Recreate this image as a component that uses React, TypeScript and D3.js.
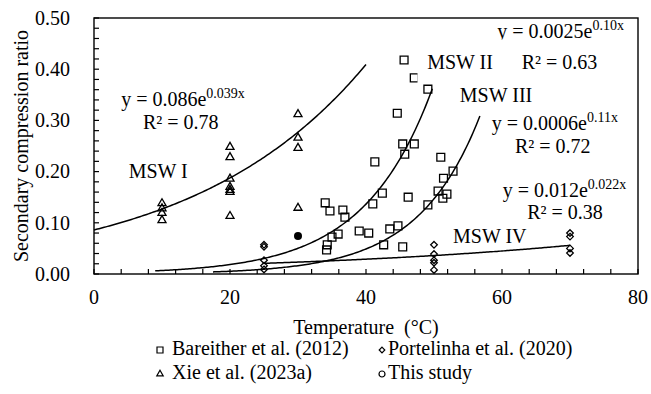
import React, { useEffect, useRef } from 'react';
import * as d3 from 'd3';

// Bareither et al. (2012) — [temperature, ratio]
const bareither: [number, number][] = [
  [45.6, 0.418], [47.1, 0.383], [49.1, 0.361], [44.6, 0.314],
  [45.4, 0.254], [47.1, 0.254], [45.7, 0.234], [41.3, 0.219],
  [51.0, 0.228], [52.8, 0.201], [51.4, 0.187], [50.6, 0.162],
  [51.9, 0.156], [51.3, 0.148], [49.1, 0.135], [42.4, 0.158],
  [46.2, 0.150], [41.0, 0.137], [34.0, 0.139], [34.7, 0.123],
  [36.6, 0.125], [36.9, 0.111], [39.0, 0.084], [40.4, 0.080],
  [43.5, 0.088], [44.7, 0.094], [35.9, 0.078], [35.0, 0.072],
  [34.3, 0.057], [34.2, 0.047], [42.6, 0.057], [45.4, 0.053],
];

// Portelinha et al. (2020)
const portelinha: [number, number][] = [
  [25, 0.057], [25, 0.053], [25, 0.027], [25, 0.016], [25, 0.009],
  [50, 0.057], [50, 0.039], [50, 0.027], [50, 0.022], [50, 0.008],
  [70, 0.080], [70, 0.073], [70, 0.050], [70, 0.041],
];

// Xie et al. (2023a)
const xie: [number, number][] = [
  [10, 0.138], [10, 0.128], [10, 0.119], [10, 0.105],
  [20, 0.248], [20, 0.228], [20, 0.186], [20, 0.170], [20, 0.164], [20, 0.160], [20, 0.113],
  [30, 0.312], [30, 0.266], [30, 0.246], [30, 0.129],
];

// This study
const thisStudy: [number, number][] = [[30, 0.074]];

// exponential fits y = a e^(b x), drawn over [from, to]
const fitA = [0.086, 0.0025, 0.0006, 0.012];
const fitB = [0.039, 0.10, 0.11, 0.022];
const fitFrom = [0, 9, 17.5, 25];
const fitTo = [40, 49.8, 56.8, 70];

const xTicks = [0, 20, 40, 60, 80];
const yTicks = [0, 0.1, 0.2, 0.3, 0.4, 0.5];

// annotations: [text, superscript, x, y] in data units (text start, baseline)
const notes: [string, string, number, number][] = [
  ['y = 0.086e', '0.039x', 4.0, 0.328],
  ['R² = 0.78', '', 7.2, 0.283],
  ['MSW I', '', 5.1, 0.1875],
  ['y = 0.0025e', '0.10x', 59.3, 0.461],
  ['MSW II', '', 49.0, 0.400],
  ['R² = 0.63', '', 62.9, 0.400],
  ['MSW III', '', 53.8, 0.336],
  ['y = 0.0006e', '0.11x', 58.5, 0.281],
  ['R² = 0.72', '', 61.9, 0.236],
  ['y = 0.012e', '0.022x', 60.1, 0.150],
  ['R² = 0.38', '', 63.7, 0.107],
  ['MSW IV', '', 52.8, 0.0605],
];

const legendNames = ['Bareither et al. (2012)', 'Portelinha et al. (2020)', 'Xie et al. (2023a)', 'This study'];

const FONT = '"Liberation Serif", "Times New Roman", serif';

const App: React.FC = () => {
  const svgRef = useRef<SVGSVGElement | null>(null);

  useEffect(() => {
    if (!svgRef.current) return;
    const W = 651;
    const H = 394;
    const margin = { top: 18, right: 13, bottom: 120, left: 94 };

    const svg = d3.select(svgRef.current).attr('width', W).attr('height', H);
    svg.selectAll('*').remove();

    const x = d3.scaleLinear().domain([0, 80]).range([margin.left, W - margin.right]);
    const y = d3.scaleLinear().domain([0, 0.5]).range([H - margin.bottom, margin.top]);

    const defs = svg.append('defs');
    defs.append('clipPath').attr('id', 'clip-eq2')
      .append('rect').attr('x', 0).attr('y', 0).attr('width', W).attr('height', 39.5);

    // minor ticks (inside)
    const tickLen = 5;
    svg.append('g').selectAll('line')
      .data(d3.range(0, 81, 4))
      .join('line')
      .attr('x1', d => x(d)).attr('x2', d => x(d))
      .attr('y1', y(0)).attr('y2', y(0) - tickLen)
      .attr('stroke', '#000').attr('stroke-width', 1.2);
    svg.append('g').selectAll('line')
      .data(d3.range(0, 26).map(i => i * 0.02))
      .join('line')
      .attr('x1', x(0)).attr('x2', x(0) + tickLen)
      .attr('y1', d => y(d)).attr('y2', d => y(d))
      .attr('stroke', '#000').attr('stroke-width', 1.2);

    // frame
    svg.append('rect')
      .attr('x', x(0)).attr('y', y(0.5))
      .attr('width', x(80) - x(0)).attr('height', y(0) - y(0.5))
      .attr('fill', 'none').attr('stroke', '#000').attr('stroke-width', 1.4);

    // tick labels
    svg.append('g').selectAll('text')
      .data(xTicks)
      .join('text')
      .attr('x', d => x(d)).attr('y', 304)
      .attr('text-anchor', 'middle')
      .attr('font-family', FONT).attr('font-size', 20)
      .text(d => String(d));
    svg.append('g').selectAll('text')
      .data(yTicks)
      .join('text')
      .attr('x', 70).attr('y', d => y(d))
      .attr('dy', '0.34em')
      .attr('text-anchor', 'end')
      .attr('font-family', FONT).attr('font-size', 20)
      .text(d => d.toFixed(2));

    // axis titles
    svg.append('text')
      .attr('x', (x(0) + x(80)) / 2).attr('y', 334)
      .attr('text-anchor', 'middle')
      .attr('font-family', FONT).attr('font-size', 20)
      .text('Temperature\u00a0 (°C)');
    svg.append('text')
      .attr('transform', `translate(28, ${(y(0) + y(0.5)) / 2}) rotate(-90)`)
      .attr('text-anchor', 'middle')
      .attr('font-family', FONT).attr('font-size', 20)
      .text('Secondary compression ratio');

    // fit curves
    const line = d3.line<[number, number]>().x(d => x(d[0])).y(d => y(d[1]));
    fitA.forEach((a, i) => {
      const pts: [number, number][] = d3.range(fitFrom[i], fitTo[i] + 0.001, 0.25)
        .map(t => [t, a * Math.exp(fitB[i] * t)]);
      svg.append('path')
        .attr('d', line(pts) ?? '')
        .attr('fill', 'none').attr('stroke', '#000').attr('stroke-width', 1.5);
    });

    // markers
    const sq = d3.symbol().type(d3.symbolSquare).size(62);
    const tri = d3.symbol().type(d3.symbolTriangle).size(28);
    const dia = d3.symbol().type(d3.symbolDiamond2).size(28);
    const drawPts = (pts: [number, number][], path: string | null, fill = 'none') => {
      svg.append('g').selectAll('path')
        .data(pts)
        .join('path')
        .attr('transform', d => `translate(${x(d[0])},${y(d[1])})`)
        .attr('d', path ?? '')
        .attr('fill', fill).attr('stroke', '#000').attr('stroke-width', 1.3);
    };
    drawPts(bareither, sq());
    drawPts(portelinha, dia());
    drawPts(xie, tri());
    svg.append('g').selectAll('circle')
      .data(thisStudy)
      .join('circle')
      .attr('cx', d => x(d[0])).attr('cy', d => y(d[1])).attr('r', 4)
      .attr('fill', '#000');

    // white box behind the MSW II label
    svg.append('rect')
      .attr('x', 417.5).attr('y', 52).attr('width', 82).attr('height', 32)
      .attr('fill', '#fff');

    // annotations
    notes.forEach(([txt, sup, nx, ny], i) => {
      const t = svg.append('text')
        .attr('x', x(nx)).attr('y', y(ny))
        .attr('font-family', FONT).attr('font-size', 20);
      if (i === 3) t.attr('clip-path', 'url(#clip-eq2)');
      t.append('tspan').text(txt);
      if (sup) {
        t.append('tspan').attr('dy', -8).attr('font-size', 14).text(sup);
      }
    });

    // legend
    const legX = [160, 382];
    const legTextX = [172, 388];
    const legY = [350, 374];
    const legSyms = [
      d3.symbol().type(d3.symbolSquare).size(36)(),
      d3.symbol().type(d3.symbolDiamond2).size(20)(),
      d3.symbol().type(d3.symbolTriangle).size(18)(),
      null,
    ];
    legendNames.forEach((name, i) => {
      const col = i % 2;
      const row = Math.floor(i / 2);
      const g = svg.append('g').attr('transform', `translate(${legX[col]},${legY[row]})`);
      const s = legSyms[i];
      if (s) {
        g.append('path').attr('d', s).attr('fill', 'none').attr('stroke', '#000').attr('stroke-width', 1.2);
      } else {
        g.append('circle').attr('r', 3).attr('fill', 'none').attr('stroke', '#000').attr('stroke-width', 1.2);
      }
      svg.append('text')
        .attr('x', legTextX[col]).attr('y', legY[row] + 5)
        .attr('font-family', FONT).attr('font-size', 20)
        .text(name);
    });
  }, []);

  return (
    <div style={{ position: 'absolute', left: 0, top: 0, width: 651, height: 394, background: '#fff' }}>
      <svg ref={svgRef} style={{ display: 'block' }} />
    </div>
  );
};

export default App;
